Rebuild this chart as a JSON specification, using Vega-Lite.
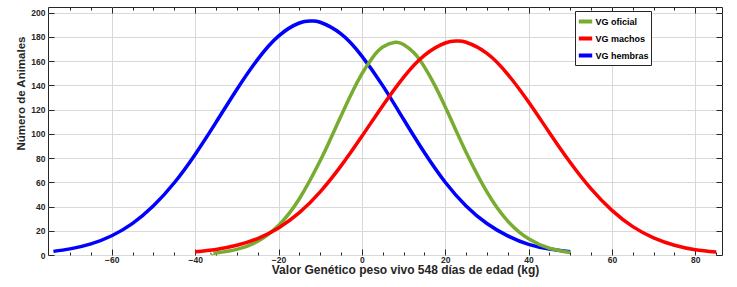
{
  "$schema": "https://vega.github.io/schema/vega-lite/v6.json",
  "width": 674,
  "height": 248,
  "autosize": {"type": "none"},
  "padding": {"left": 48, "top": 7, "right": 15, "bottom": 32},
  "background": "white",
  "config": {
    "view": {"stroke": "#262626", "strokeWidth": 1},
    "font": "Liberation Sans",
    "axis": {"labelFont": "Liberation Sans", "titleFont": "Liberation Sans", "labelFontWeight": "bold", "titleFontWeight": "bold", "labelColor": "#262626", "titleColor": "#262626", "tickColor": "#262626", "domain": false}
  },
  "data": {
    "values": [
      {"serie": "VG hembras", "x": -74, "y": 2.98},
      {"serie": "VG hembras", "x": -70, "y": 5.03},
      {"serie": "VG hembras", "x": -65, "y": 9.2},
      {"serie": "VG hembras", "x": -60, "y": 15.9},
      {"serie": "VG hembras", "x": -55, "y": 26.1},
      {"serie": "VG hembras", "x": -50, "y": 40.6},
      {"serie": "VG hembras", "x": -45, "y": 59.6},
      {"serie": "VG hembras", "x": -40, "y": 83.0},
      {"serie": "VG hembras", "x": -35, "y": 109.4},
      {"serie": "VG hembras", "x": -30, "y": 136.6},
      {"serie": "VG hembras", "x": -25, "y": 161.4},
      {"serie": "VG hembras", "x": -20, "y": 180.6},
      {"serie": "VG hembras", "x": -15, "y": 191.4},
      {"serie": "VG hembras", "x": -12.2, "y": 193.0},
      {"serie": "VG hembras", "x": -10, "y": 192.0},
      {"serie": "VG hembras", "x": -5, "y": 182.4},
      {"serie": "VG hembras", "x": 0, "y": 164.1},
      {"serie": "VG hembras", "x": 5, "y": 139.7},
      {"serie": "VG hembras", "x": 10, "y": 112.0},
      {"serie": "VG hembras", "x": 15, "y": 84.5},
      {"serie": "VG hembras", "x": 20, "y": 60.0},
      {"serie": "VG hembras", "x": 25, "y": 40.5},
      {"serie": "VG hembras", "x": 30, "y": 26.0},
      {"serie": "VG hembras", "x": 35, "y": 15.8},
      {"serie": "VG hembras", "x": 40, "y": 8.8},
      {"serie": "VG hembras", "x": 45, "y": 4.9},
      {"serie": "VG hembras", "x": 50, "y": 2.7},
      {"serie": "VG oficial", "x": -36, "y": 1.35},
      {"serie": "VG oficial", "x": -35, "y": 1.68},
      {"serie": "VG oficial", "x": -30, "y": 4.65},
      {"serie": "VG oficial", "x": -25, "y": 11.3},
      {"serie": "VG oficial", "x": -20, "y": 24.4},
      {"serie": "VG oficial", "x": -15, "y": 46.4},
      {"serie": "VG oficial", "x": -10, "y": 77.7},
      {"serie": "VG oficial", "x": -7.5, "y": 95.9},
      {"serie": "VG oficial", "x": -5, "y": 114.7},
      {"serie": "VG oficial", "x": -2.5, "y": 133.0},
      {"serie": "VG oficial", "x": 0, "y": 149.4},
      {"serie": "VG oficial", "x": 2.5, "y": 162.6},
      {"serie": "VG oficial", "x": 5, "y": 171.6},
      {"serie": "VG oficial", "x": 8, "y": 175.5},
      {"serie": "VG oficial", "x": 10, "y": 173.7},
      {"serie": "VG oficial", "x": 12.5, "y": 166.8},
      {"serie": "VG oficial", "x": 15, "y": 155.2},
      {"serie": "VG oficial", "x": 17.5, "y": 139.9},
      {"serie": "VG oficial", "x": 20, "y": 122.2},
      {"serie": "VG oficial", "x": 22.5, "y": 103.4},
      {"serie": "VG oficial", "x": 25, "y": 84.8},
      {"serie": "VG oficial", "x": 30, "y": 52.0},
      {"serie": "VG oficial", "x": 35, "y": 28.0},
      {"serie": "VG oficial", "x": 40, "y": 13.4},
      {"serie": "VG oficial", "x": 45, "y": 5.6},
      {"serie": "VG oficial", "x": 50, "y": 2.08},
      {"serie": "VG machos", "x": -40, "y": 2.6},
      {"serie": "VG machos", "x": -35, "y": 4.6},
      {"serie": "VG machos", "x": -30, "y": 8.0},
      {"serie": "VG machos", "x": -25, "y": 13.6},
      {"serie": "VG machos", "x": -20, "y": 22.3},
      {"serie": "VG machos", "x": -15, "y": 34.9},
      {"serie": "VG machos", "x": -10, "y": 52.1},
      {"serie": "VG machos", "x": -5, "y": 73.5},
      {"serie": "VG machos", "x": 0, "y": 97.9},
      {"serie": "VG machos", "x": 5, "y": 123.2},
      {"serie": "VG machos", "x": 10, "y": 146.6},
      {"serie": "VG machos", "x": 15, "y": 164.7},
      {"serie": "VG machos", "x": 20, "y": 174.9},
      {"serie": "VG machos", "x": 22.8, "y": 176.5},
      {"serie": "VG machos", "x": 25, "y": 175.5},
      {"serie": "VG machos", "x": 30, "y": 166.4},
      {"serie": "VG machos", "x": 35, "y": 149.1},
      {"serie": "VG machos", "x": 40, "y": 126.2},
      {"serie": "VG machos", "x": 45, "y": 100.9},
      {"serie": "VG machos", "x": 50, "y": 76.3},
      {"serie": "VG machos", "x": 55, "y": 54.5},
      {"serie": "VG machos", "x": 60, "y": 36.8},
      {"serie": "VG machos", "x": 65, "y": 23.4},
      {"serie": "VG machos", "x": 70, "y": 14.1},
      {"serie": "VG machos", "x": 75, "y": 8.03},
      {"serie": "VG machos", "x": 80, "y": 4.33},
      {"serie": "VG machos", "x": 85, "y": 2.4}
    ]
  },
  "resolve": {"scale": {"x": "shared", "y": "shared"}, "axis": {"x": "independent", "y": "independent"}},
  "layer": [
    {
      "mark": {"type": "line", "interpolate": "natural", "strokeWidth": 3.5, "strokeCap": "butt"},
      "encoding": {
        "x": {
          "field": "x", "type": "quantitative",
          "scale": {"domain": [-75.3, 86.4], "nice": false, "zero": false},
          "axis": {
            "orient": "bottom",
            "values": [-70,-65,-60,-55,-50,-45,-40,-35,-30,-25,-20,-15,-10,-5,0,5,10,15,20,25,30,35,40,45,50,55,60,65,70,75,80,85],
            "labelExpr": "datum.value % 20 === 0 ? datum.label : ''",
            "grid": true,
            "gridColor": "#d9d9d9",
            "gridOpacity": {"condition": {"test": "datum.value % 20 === 0", "value": 1}, "value": 0},
            "tickSize": {"condition": {"test": "datum.value % 20 === 0", "value": -6}, "value": -3},
            "labelPadding": 6,
            "labelFontSize": 8.5,
            "title": "Valor Genético peso vivo 548 días de edad (kg)",
            "titleFontSize": 12,
            "titleX": 357,
            "titlePadding": 1
          }
        },
        "y": {
          "field": "y", "type": "quantitative",
          "scale": {"domain": [0, 204.6], "nice": false, "zero": true},
          "axis": {
            "orient": "left",
            "values": [0,20,40,60,80,100,120,140,160,180,200],
            "grid": true,
            "gridColor": "#d9d9d9",
            "tickSize": -6,
            "labelPadding": 9,
            "labelFontSize": 8.5,
            "title": "Número de Animales",
            "titleFontSize": 11.5,
            "titleY": 86,
            "titlePadding": 4
          }
        },
        "color": {
          "field": "serie", "type": "nominal",
          "scale": {"domain": ["VG oficial", "VG machos", "VG hembras"], "range": ["#77AC30", "#FF0000", "#0000FF"]},
          "legend": {
            "orient": "none", "legendX": 527, "legendY": 4,
            "title": null,
            "fillColor": "white", "strokeColor": "#262626", "padding": 1.5,
            "symbolType": "stroke", "symbolSize": 180, "symbolStrokeWidth": 4,
            "labelFont": "Liberation Sans", "labelFontWeight": "bold", "labelFontSize": 9, "labelColor": "black",
            "labelOffset": 1, "rowPadding": -1
          }
        }
      }
    },
    {
      "mark": {"type": "line", "opacity": 0},
      "encoding": {
        "x": {
          "field": "x", "type": "quantitative",
          "axis": {
            "orient": "top",
            "values": [-70,-65,-60,-55,-50,-45,-40,-35,-30,-25,-20,-15,-10,-5,0,5,10,15,20,25,30,35,40,45,50,55,60,65,70,75,80,85],
            "labels": false, "grid": false,
            "tickSize": {"condition": {"test": "datum.value % 20 === 0", "value": -6}, "value": -3},
            "title": null
          }
        },
        "y": {
          "field": "y", "type": "quantitative",
          "axis": {
            "orient": "right",
            "values": [0,20,40,60,80,100,120,140,160,180,200],
            "labels": false, "grid": false, "tickSize": -6, "title": null
          }
        },
        "detail": {"field": "serie"}
      }
    }
  ]
}
